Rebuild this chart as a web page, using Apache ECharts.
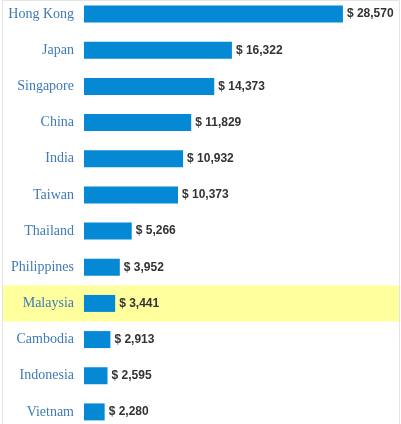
<!DOCTYPE html>
<html>
<head>
<meta charset="utf-8">
<script src="https://cdn.jsdelivr.net/npm/echarts@6/dist/echarts.min.js"></script>
<style>
html,body{margin:0;padding:0;background:#fff;overflow:hidden;}
#wrap{position:relative;width:401px;height:424px;overflow:hidden;}
#c{position:absolute;left:0;top:-4px;width:401px;height:434px;}
</style>
</head>
<body>
<div id="wrap"><div id="c"></div></div>
<script>
var categories = ['Hong Kong','Japan','Singapore','China','India','Taiwan','Thailand','Philippines','Malaysia','Cambodia','Indonesia','Vietnam'];
var values = [28570,16322,14373,11829,10932,10373,5266,3952,3441,2913,2595,2280];
var highlight = 'Malaysia';

var chart = echarts.init(document.getElementById('c'), null, {renderer:'canvas'});
chart.setOption({
  animation:false,
  grid:{left:84, top:0, bottom:0, width:290, containLabel:false},
  xAxis:{type:'value', min:0, max:32000, show:false},
  yAxis:{type:'category', data:categories, inverse:true,
    axisLine:{show:false}, axisTick:{show:false}, splitLine:{show:false},
    axisLabel:{margin:10, color:'#3f7ab6', fontFamily:'Liberation Serif', fontSize:14}
  },
  series:[{
    type:'bar', data:values, barWidth:17, z:3,
    itemStyle:{color:'#0589d4'},
    label:{show:true, position:'right', distance:4, color:'#333', fontWeight:'bold',
      fontFamily:'Liberation Sans', fontSize:12,
      formatter:function(p){return '$ ' + p.value.toLocaleString('en-US');}}
  }]
});
var yc = chart.convertToPixel({yAxisIndex:0}, highlight);
var y0 = chart.convertToPixel({yAxisIndex:0}, categories[0]);
var y1 = chart.convertToPixel({yAxisIndex:0}, categories[1]);
var band = Math.abs(y1 - y0);
chart.setOption({
  graphic:[
    {type:'rect', z:-10, silent:true, shape:{x:3, y:yc-band/2, width:397, height:band}, style:{fill:'#ffff9e'}},
    {type:'rect', z:-5, silent:true, shape:{x:2.5, y:4.5, width:397, height:440}, style:{fill:'none', stroke:'#e4e4e4', lineWidth:1}}
  ]
});
</script>
</body>
</html>
